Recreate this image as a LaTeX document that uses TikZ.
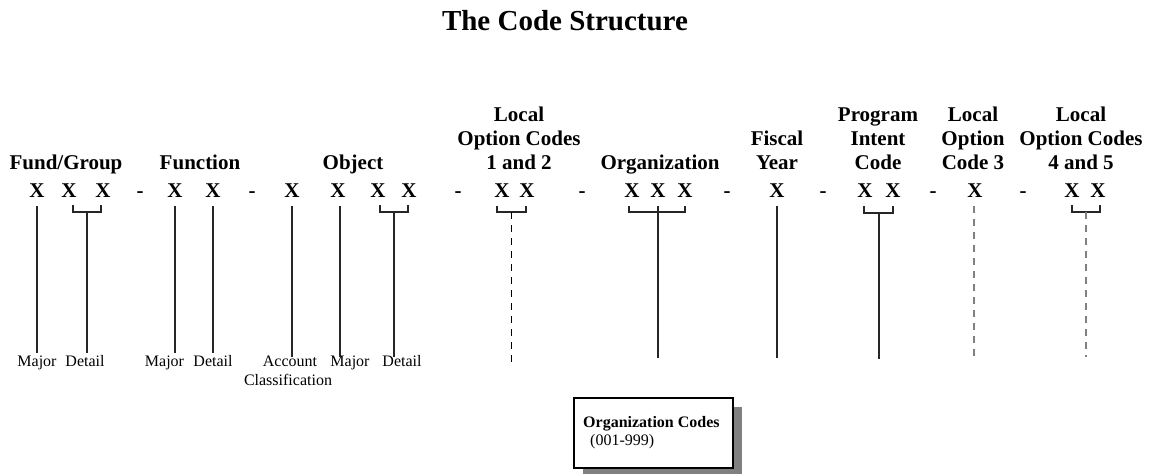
\documentclass[tikz,border=0pt]{standalone}
\usepackage{fontspec}
\setmainfont{Liberation Serif}
\begin{document}
\begin{tikzpicture}[x=1pt,y=-1pt,
  hdr/.style={anchor=base,inner sep=0pt,font=\fontsize{21}{24}\selectfont\bfseries},
  xch/.style={anchor=base,inner sep=0pt,font=\fontsize{21}{24}\selectfont\bfseries},
  lbl/.style={anchor=base,inner sep=0pt,font=\fontsize{16}{19}\selectfont},
  solidln/.style={line width=1.6pt,draw=black!85},
  brk/.style={line width=1.6pt,draw=black!85},
  dashblk/.style={line width=0.9pt,draw=black,dash pattern=on 7pt off 6pt},
  dashgry/.style={line width=1.4pt,draw=black!50,dash pattern=on 7pt off 6pt}]
\useasboundingbox (0,0) rectangle (1149,474);
% title
\node[anchor=base,inner sep=0pt,font=\fontsize{29}{34}\selectfont\bfseries] (title) at (565,30) {The Code Structure};
% headers
\newcommand{\hstack}[1]{\begin{tabular}[b]{@{}c@{}}#1\end{tabular}}
\node[hdr] (hfund) at (66,169) {Fund/Group};
\node[hdr] (hfunc) at (200,169) {Function};
\node[hdr] (hobj) at (353,169) {Object};
\node[hdr] (hloc12) at (519,169) {\hstack{Local\\Option Codes\\1 and 2}};
\node[hdr] (horg) at (660,169) {Organization};
\node[hdr] (hfy) at (777,169) {\hstack{Fiscal\\Year}};
\node[hdr] (hpic) at (878,169) {\hstack{Program\\Intent\\Code}};
\node[hdr] (hloc3) at (973,169) {\hstack{Local\\Option\\Code 3}};
\node[hdr] (hloc45) at (1081,169) {\hstack{Local\\Option Codes\\4 and 5}};
% X row
\foreach \n/\px in {x1/37,x2/69,x3/103,x4/175,x5/213,x6/292,x7/338,x8/378,x9/409,
  x10/502,x11/527,x12/632,x13/658,x14/685,x15/777,x16/865,x17/893,x18/975,x19/1072,x20/1098}
  \node[xch] (\n) at (\px,197) {X};
\foreach \n/\px in {d1/140,d2/252,d3/458,d4/582,d5/727,d6/823,d7/933,d8/1023}
  \node[xch] (\n) at (\px,197) {-};
% single lines
\foreach \n/\px/\ty/\by in {
  a1/37/206/353, a4/175/206/353, a5/213/206/353, a6/292/206/357, a7/340/206/357,
  a15/777/206/358}{
  \coordinate (\n t) at (\px,\ty);
  \coordinate (\n b) at (\px,\by);
}
\draw[solidln] (a1t) -- (a1b);
\draw[solidln] (a4t) -- (a4b);
\draw[solidln] (a5t) -- (a5b);
\draw[solidln] (a6t) -- (a6b);
\draw[solidln] (a7t) -- (a7b);
\draw[solidln] (a15t) -- (a15b);
% brackets
\coordinate (b1l) at (73,205); \coordinate (b1r) at (101,205);
\coordinate (b1c) at (87,212); \coordinate (b1e) at (87,353);
\draw[brk] (b1l) |- (b1r |- b1c) -- (b1r);
\draw[solidln] (b1c) -- (b1e);
\coordinate (b2l) at (380,205); \coordinate (b2r) at (408,205);
\coordinate (b2c) at (394,212); \coordinate (b2e) at (394,357);
\draw[brk] (b2l) |- (b2r |- b2c) -- (b2r);
\draw[solidln] (b2c) -- (b2e);
\coordinate (b3l) at (497,206); \coordinate (b3r) at (526,206);
\coordinate (b3c) at (511,212); \coordinate (b3e) at (511,362);
\draw[brk] (b3l) |- (b3r |- b3c) -- (b3r);
\draw[dashblk] (b3c) -- (b3e);
\coordinate (b4l) at (629,206); \coordinate (b4r) at (685,206);
\coordinate (b4t) at (658,206); \coordinate (b4e) at (658,358);
\draw[brk] (b4l) |- (b4r |- 0,212) -- (b4r);
\draw[solidln] (b4t) -- (b4e);
\coordinate (b5l) at (864,206); \coordinate (b5r) at (893,206);
\coordinate (b5c) at (879,213); \coordinate (b5e) at (879,359);
\draw[brk] (b5l) |- (b5r |- b5c) -- (b5r);
\draw[solidln] (b5c) -- (b5e);
\coordinate (c3t) at (974,206); \coordinate (c3b) at (974,357);
\draw[dashgry] (c3t) -- (c3b);
\coordinate (b6l) at (1072,205); \coordinate (b6r) at (1100,205);
\coordinate (b6c) at (1086,212); \coordinate (b6e) at (1086,357);
\draw[brk] (b6l) |- (b6r |- b6c) -- (b6r);
\draw[dashgry] (b6c) -- (b6e);
% bottom labels
\node[lbl] (l1) at (37,366) {Major};
\node[lbl] (l2) at (85,366) {Detail};
\node[lbl] (l3) at (164.5,366) {Major};
\node[lbl] (l4) at (213,366) {Detail};
\node[lbl] (l5) at (290,366) {Account};
\node[lbl] (l6) at (288,385) {Classification};
\node[lbl] (l7) at (350,366) {Major};
\node[lbl] (l8) at (402,366) {Detail};
% organization codes box
\fill[black!50] (583,407) rectangle (742,475);
\node[draw=black,line width=1.6pt,fill=white,minimum width=159pt,minimum height=70pt,inner sep=0pt,anchor=north west] (orgbox) at (573,397) {};
\node[anchor=base west,inner sep=0pt,font=\fontsize{16}{18}\selectfont\bfseries] (orgt1) at (583,427) {Organization Codes};
\node[anchor=base west,inner sep=0pt,font=\fontsize{16}{18}\selectfont] (orgt2) at (590,445) {(001-999)};
\end{tikzpicture}
\end{document}
